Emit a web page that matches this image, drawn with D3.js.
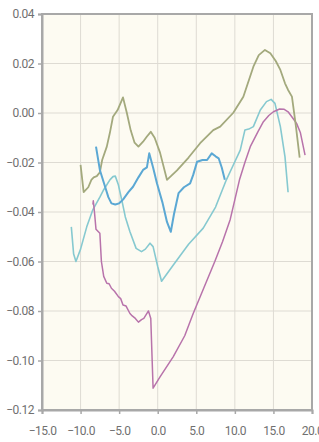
<!DOCTYPE html>
<html lang="en">
<head>
    <meta charset="utf-8">
    <title>Line Chart</title>
    <script src="https://cdn.jsdelivr.net/npm/d3@7/dist/d3.min.js"></script>
    <style type="text/css">
        body
        {
            margin: 0;
            background-color: #ffffff;
        }
        .tick text
        {
            font-family: Roboto, "Liberation Sans", sans-serif;
            font-size: 12px;
            letter-spacing: -0.5px;
            fill: #707070;
        }
    </style>
</head>
<body>
    <div id="chart_div"></div>
    <script>
    "use strict";
    var svg_width = 319;
    var svg_height = 442;
    var margin = {top: 14, right: 7, bottom: 32, left: 42};

    var x_ticks = [-15, -10, -5, 0, 5, 10, 15, 20];
    var y_ticks = [-0.12, -0.10, -0.08, -0.06, -0.04, -0.02, 0.00, 0.02, 0.04];

    var olive_x = [-10.0, -9.6, -9.0, -8.6, -8.3, -7.9, -7.5, -7.2, -6.6, -6.2, -5.8, -5.2, -4.5, -4.0, -3.5, -3.0, -2.5, -1.9, -1.4, -0.9, -0.4, 0.3, 1.2, 2.5, 4.0, 5.5, 7.2, 8.1, 9.8, 11.1, 12.4, 13.1, 13.9, 14.6, 15.3, 15.9, 16.5, 16.9, 17.4, 17.9, 18.4];
    var olive_y = [-0.021, -0.032, -0.030, -0.027, -0.026, -0.0255, -0.024, -0.019, -0.0136, -0.008, -0.0015, 0.0012, 0.0063, 0.000, -0.007, -0.012, -0.0136, -0.0116, -0.0095, -0.0076, -0.010, -0.016, -0.027, -0.0232, -0.018, -0.0122, -0.0069, -0.0055, 0.0001, 0.0066, 0.0187, 0.0234, 0.0255, 0.0241, 0.021, 0.0174, 0.012, 0.0093, 0.0066, -0.005, -0.018];

    var blue_x = [-8.0, -7.5, -6.8, -6.4, -6.0, -5.5, -5.0, -4.5, -3.8, -3.2, -2.5, -1.9, -1.4, -1.1, -0.6, -0.1, 0.6, 1.2, 1.7, 2.1, 2.7, 3.4, 4.2, 4.6, 5.1, 5.8, 6.4, 7.0, 7.5, 7.9, 8.3, 8.7];
    var blue_y = [-0.0136, -0.023, -0.030, -0.034, -0.0365, -0.037, -0.0365, -0.035, -0.032, -0.0298, -0.026, -0.023, -0.022, -0.0163, -0.022, -0.0284, -0.036, -0.044, -0.048, -0.041, -0.0324, -0.030, -0.0284, -0.025, -0.0197, -0.019, -0.019, -0.0163, -0.0175, -0.0183, -0.022, -0.027];

    var teal_x = [-11.2, -10.9, -10.6, -10.0, -9.2, -8.4, -7.5, -7.0, -6.2, -5.8, -5.5, -5.1, -4.6, -4.2, -3.6, -2.8, -2.1, -1.6, -1.0, -0.6, 0.0, 0.5, 2.0, 4.0, 5.9, 7.5, 8.9, 9.8, 10.7, 11.3, 11.8, 12.4, 13.3, 14.1, 14.7, 15.2, 15.9, 16.5, 16.9];
    var teal_y = [-0.046, -0.057, -0.060, -0.055, -0.046, -0.039, -0.034, -0.031, -0.027, -0.0257, -0.0255, -0.029, -0.036, -0.042, -0.048, -0.0547, -0.056, -0.055, -0.0526, -0.054, -0.062, -0.068, -0.0615, -0.053, -0.0465, -0.038, -0.027, -0.021, -0.015, -0.0069, -0.0065, -0.0055, 0.0012, 0.0046, 0.0055, 0.0039, -0.0055, -0.0177, -0.032];

    var purple_x = [-8.4, -8.35, -8.2, -8.0, -7.5, -7.3, -7.0, -6.6, -6.3, -6.0, -5.6, -5.1, -4.8, -4.5, -4.1, -3.6, -3.3, -2.9, -2.5, -2.1, -1.8, -1.4, -1.2, -0.9, -0.6, 0.3, 2.0, 3.5, 4.6, 6.0, 7.4, 8.4, 9.4, 10.0, 10.6, 11.3, 12.0, 13.0, 13.7, 14.4, 15.0, 15.8, 16.4, 16.9, 17.5, 18.0, 18.5, 19.1];
    var purple_y = [-0.037, -0.0355, -0.040, -0.047, -0.0486, -0.060, -0.066, -0.0688, -0.069, -0.0708, -0.072, -0.0742, -0.075, -0.0776, -0.078, -0.081, -0.082, -0.083, -0.0845, -0.0835, -0.083, -0.081, -0.080, -0.083, -0.1112, -0.1066, -0.0985, -0.090, -0.081, -0.0705, -0.060, -0.052, -0.043, -0.035, -0.027, -0.020, -0.0136, -0.0075, -0.0035, -0.001, 0.0005, 0.0016, 0.0015, 0.0005, -0.002, -0.0042, -0.008, -0.017];

    var series_list = [
        {xs: teal_x, ys: teal_y, color: "#86c9d0", width: 1.6},
        {xs: purple_x, ys: purple_y, color: "#b873ab", width: 1.5},
        {xs: olive_x, ys: olive_y, color: "#a3a97d", width: 1.8},
        {xs: blue_x, ys: blue_y, color: "#5ba8d4", width: 2}
    ];

    var chart_width = svg_width - margin.left - margin.right;
    var chart_height = svg_height - margin.top - margin.bottom;

    var x_scale = d3.scaleLinear().domain([-15, 20]).range([0, chart_width]);
    var y_scale = d3.scaleLinear().domain([-0.12, 0.04]).range([chart_height, 0]);

    var svg = d3.select("#chart_div")
        .append("svg")
        .attr("width", svg_width)
        .attr("height", svg_height);

    var chart = svg.append("g")
        .attr("transform", "translate(" + margin.left + "," + margin.top + ")");

    chart.append("rect")
        .attr("width", chart_width)
        .attr("height", chart_height)
        .attr("fill", "#fdfbf2");

    // grid
    chart.append("g")
        .selectAll("line")
        .data(x_ticks)
        .enter()
        .append("line")
        .attr("x1", (d) => x_scale(d))
        .attr("x2", (d) => x_scale(d))
        .attr("y1", 0)
        .attr("y2", chart_height)
        .attr("stroke", "#dedbd3")
        .attr("stroke-width", 1);
    chart.append("g")
        .selectAll("line")
        .data(y_ticks)
        .enter()
        .append("line")
        .attr("x1", 0)
        .attr("x2", chart_width)
        .attr("y1", (d) => y_scale(d))
        .attr("y2", (d) => y_scale(d))
        .attr("stroke", "#dedbd3")
        .attr("stroke-width", 1);

    var line = d3.line()
        .x((d) => x_scale(d[0]))
        .y((d) => y_scale(d[1]));

    series_list.forEach(function(s)
    {
        var pts = s.xs.map(function(x, i) { return [x, s.ys[i]]; });
        chart.append("path")
            .datum(pts)
            .attr("d", line)
            .attr("fill", "none")
            .attr("stroke", s.color)
            .attr("stroke-width", s.width)
            .attr("stroke-linejoin", "round");
    });

    // frame
    chart.append("rect")
        .attr("width", chart_width)
        .attr("height", chart_height)
        .attr("fill", "none")
        .attr("stroke", "#a8a8a8")
        .attr("stroke-width", 2);

    var x_axis = d3.axisBottom(x_scale)
        .tickValues(x_ticks)
        .tickFormat(d3.format(".1f"))
        .tickSize(4)
        .tickPadding(12);
    var y_axis = d3.axisLeft(y_scale)
        .tickValues(y_ticks)
        .tickFormat(d3.format(".2f"))
        .tickSize(4)
        .tickPadding(4);

    var gx = chart.append("g")
        .attr("transform", "translate(0," + chart_height + ")")
        .call(x_axis);
    var gy = chart.append("g").call(y_axis);
    [gx, gy].forEach(function(g)
    {
        g.select(".domain").attr("stroke", "#a8a8a8").attr("stroke-width", 2);
        g.selectAll(".tick line").attr("stroke", "#a8a8a8").attr("stroke-width", 1.5);
    });
    </script>
</body>
</html>
